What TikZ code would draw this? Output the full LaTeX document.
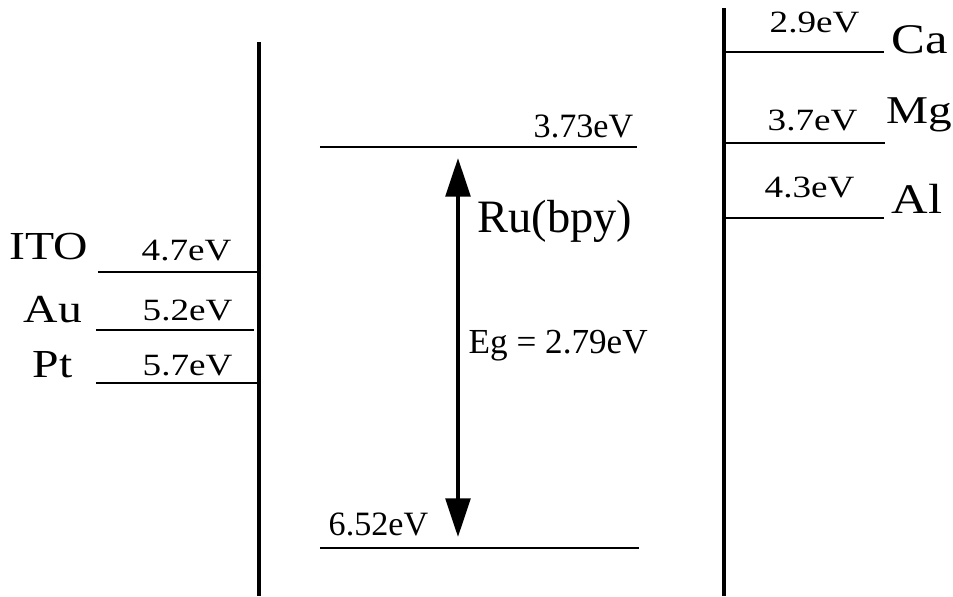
\documentclass[tikz,border=0pt]{standalone}
\usepackage{fontspec}
\setmainfont{Liberation Serif}
\newfontfamily\widefont[FakeStretch=1.2]{Liberation Serif}
\usepackage{tikz}
\usetikzlibrary{arrows.meta}

\begin{document}
\begin{tikzpicture}[
        x=0.01cm, y=-0.01cm,
        wall/.style={line width=1.2pt},
        level/.style={line width=0.7pt},
        lbl/.style={anchor=base west, inner sep=0pt},
        evsmall/.style={lbl, font=\widefont\fontsize{8.8}{10}\selectfont},
        metalleft/.style={lbl, font=\widefont\fontsize{11.3}{13}\selectfont},
        metalright/.style={lbl, font=\widefont\fontsize{12}{14}\selectfont},
        evmid/.style={lbl, font=\fontsize{9.7}{11}\selectfont},
        gap/.style={{Triangle[width=7pt,length=11pt]}-{Triangle[width=7pt,length=11pt]}, line width=1.1pt}
    ]
        \useasboundingbox (0,0) rectangle (953,596);
        % electrode walls
        \draw[wall] (259,42) -- (259,596);
        \draw[wall] (724,8) -- (724,596);
        % anode side
        \draw[level] (98,272) -- (259,272);
        \draw[level] (96,330) -- (254,330);
        \draw[level] (96,383) -- (259,383);
        \node[metalleft] (ito) at (9,259) {ITO};
        \node[metalleft] (au) at (23,322) {Au};
        \node[metalleft] (pt) at (32,377) {Pt};
        \node[evsmall] (itoev) at (141,260) {4.7eV};
        \node[evsmall] (auev) at (142,320) {5.2eV};
        \node[evsmall] (ptev) at (142,375) {5.7eV};
        % cathode side
        \draw[level] (724,52) -- (884,52);
        \draw[level] (724,143) -- (885,143);
        \draw[level] (724,218) -- (884,218);
        \node[evsmall] (caev) at (769,32) {2.9eV};
        \node[evsmall] (mgev) at (767,130) {3.7eV};
        \node[evsmall] (alev) at (764,197) {4.3eV};
        \node[metalright] (ca) at (891,53) {Ca};
        \node[metalright, font=\widefont\fontsize{11.2}{13}\selectfont] (mg) at (886,123) {Mg};
        \node[metalright] (al) at (891,213) {Al};
        % emitter levels
        \coordinate (lumo) at (458,158);
        \coordinate (homo) at (458,537);
        \draw[level] (320,147) -- (637,147);
        \draw[level] (320,548) -- (639,548);
        \node[evmid] (lumoev) at (533,137) {3.73eV};
        \node[evmid] (homoev) at (328,535) {6.52eV};
        \draw[gap] (lumo) -- (homo);
        \node[lbl, font=\fontsize{13.2}{15}\selectfont] (ru) at (477,232) {Ru(bpy)};
        \node[lbl, font=\fontsize{10}{12}\selectfont] (eg) at (468,353) {Eg = 2.79eV};
    \end{tikzpicture}
\end{document}
